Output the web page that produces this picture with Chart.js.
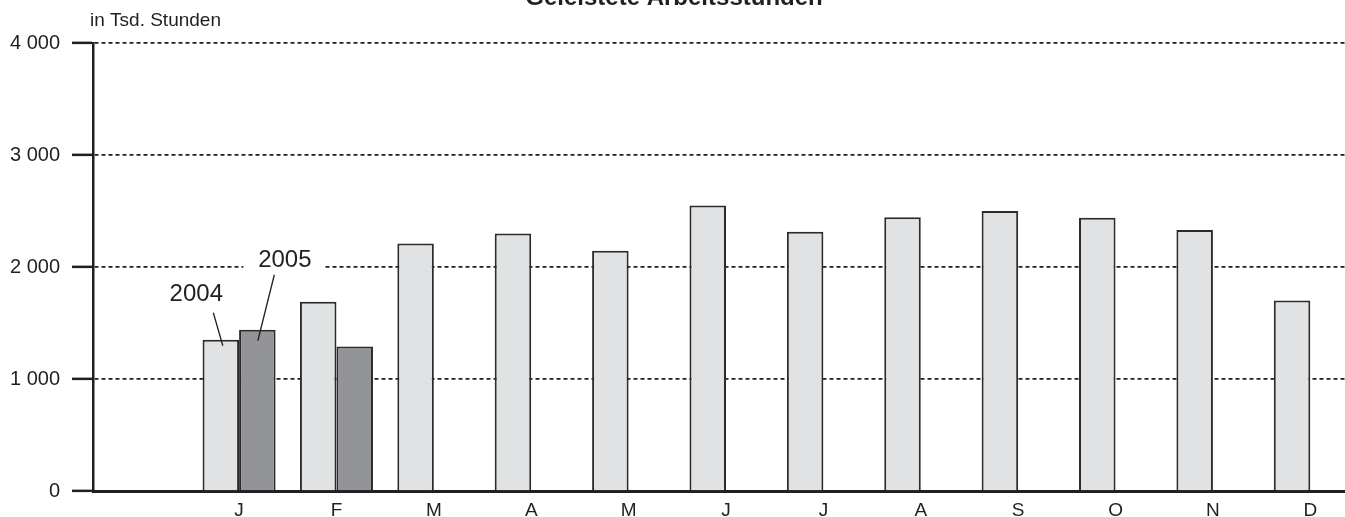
<!DOCTYPE html>
<html>
<head>
<meta charset="utf-8">
<script src="https://cdn.jsdelivr.net/npm/chart.js@4/dist/chart.umd.min.js"></script>
<style>
  html, body { margin: 0; padding: 0; background: #fff; overflow: hidden; }
  #wrap { position: absolute; left: 0; top: 0; }
</style>
</head>
<body>
<div id="wrap"><canvas id="chart" width="1360" height="517"></canvas></div>
<script>
// Monate (erste Kategorie bleibt leer)
var months = ["", "J", "F", "M", "A", "M", "J", "J", "A", "S", "O", "N", "D"];
var hours2004 = [null, 1350, 1690, 2210, 2300, 2145, 2550, 2315, 2445, 2500, 2440, 2330, 1700];
var hours2005 = [null, 1440, 1290, null, null, null, null, null, null, null, null, null, null];
var yTickValues = [0, 1000, 2000, 3000, 4000];
var yTickLabels = ["0", "1 000", "2 000", "3 000", "4 000"];
var seriesNames = ["2004", "2005"];

var chartTitle = "Geleistete Arbeitsstunden";
var unitText = "in Tsd. Stunden";
var ink = "#231f20";
var fontFam = "'Liberation Sans', Arial, sans-serif";

// Titel, Einheit und die Beschriftung 2004 / 2005
var annotations = {
    id: "annotations",
    afterDatasetsDraw: function (chart) {
        var c = chart.ctx;
        c.save();
        c.fillStyle = ink;
        c.textAlign = "center";
        c.textBaseline = "alphabetic";
        c.font = "bold 24px " + fontFam;
        c.fillText(chartTitle, 674, 5);

        c.textAlign = "left";
        c.font = "19px " + fontFam;
        c.fillText(unitText, 90, 26);

        var b4 = chart.getDatasetMeta(0).data[1];
        var b5 = chart.getDatasetMeta(1).data[1];

        // 2005 mit weissem Hintergrund ueber der Gitterlinie
        c.fillStyle = "#fff";
        c.fillRect(b5.x - 14, b5.y - 78, 80, 26);
        c.fillStyle = ink;
        c.font = "24px " + fontFam;
        c.textAlign = "center";
        c.fillText(seriesNames[1], b5.x + 27.5, b5.y - 63);
        c.fillText(seriesNames[0], b4.x - 24.5, b4.y - 38.5);

        c.strokeStyle = ink;
        c.lineWidth = 1.3;
        c.beginPath();
        c.moveTo(b4.x - 7.5, b4.y - 27);
        c.lineTo(b4.x + 2, b4.y + 6);
        c.moveTo(b5.x + 17, b5.y - 55);
        c.lineTo(b5.x + 0.5, b5.y + 11);
        c.stroke();
        c.restore();
    }
};

var chart = new Chart(document.getElementById("chart"), {
    type: "bar",
    data: {
        labels: months,
        datasets: [{
            label: seriesNames[0],
            data: hours2004,
            backgroundColor: "#e1e2e4",
            borderColor: "#2b2b2b",
            borderWidth: 2
        },
        {
            label: seriesNames[1],
            data: hours2005,
            backgroundColor: "#939497",
            borderColor: "#2b2b2b",
            borderWidth: 2
        }]
    },
    options: {
        responsive: false,
        animation: false,
        devicePixelRatio: 1,
        layout: { padding: { top: 43, right: 1, left: 0, bottom: 0 } },
        datasets: { bar: { categoryPercentage: 0.75, barPercentage: 1.0 } },
        plugins: {
            legend: { display: false },
            title: { display: false },
            tooltip: { enabled: false }
        },
        scales: {
            x: {
                afterFit: function (s) { s.height = 26; },
                grid: { display: false, drawTicks: false },
                border: { display: true, color: ink, width: 3 },
                ticks: {
                    color: ink,
                    font: { family: fontFam, size: 19 },
                    padding: 8,
                    maxRotation: 0,
                    autoSkip: false
                }
            },
            y: {
                min: 0,
                max: 4000,
                afterFit: function (s) { s.width = 93; },
                afterBuildTicks: function (s) {
                    s.ticks = yTickValues.map(function (v) { return { value: v }; });
                },
                grid: {
                    color: ink,
                    lineWidth: 1.7,
                    drawTicks: true,
                    tickLength: 21,
                    tickWidth: 2.5,
                    tickColor: ink
                },
                border: { display: true, color: ink, width: 2.5, dash: [4, 3] },
                ticks: {
                    color: ink,
                    font: { family: fontFam, size: 20 },
                    padding: 12,
                    callback: function (v, i) { return yTickLabels[i]; }
                }
            }
        }
    },
    plugins: [annotations]
});
</script>
</body>
</html>
